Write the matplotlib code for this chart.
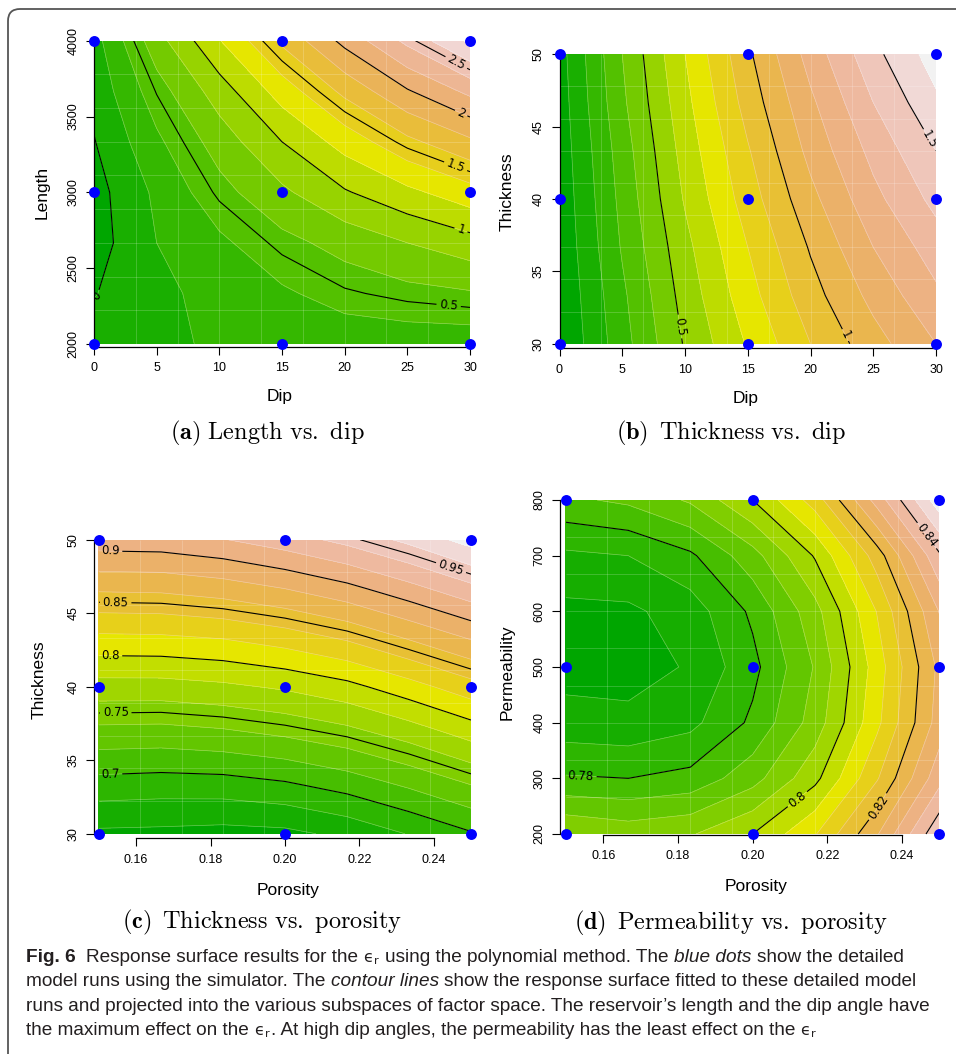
import colorsys
import numpy as np
import matplotlib
matplotlib.use("Agg")
import matplotlib.pyplot as plt
from matplotlib.patches import FancyBboxPatch
from matplotlib.transforms import IdentityTransform
from matplotlib import font_manager

# ---- data (response surface values on a coarse grid) ----
dip_a = [0, 5, 10, 15, 20, 25, 30]
length_a = [2000, 2333, 2667, 3000, 3333, 3667, 4000]
eps_a = [
    [0.09, 0.17, 0.22, 0.25, 0.28, 0.29, 0.29],
    [-0.01, 0.15, 0.27, 0.37, 0.48, 0.54, 0.58],
    [-0.09, 0.20, 0.36, 0.54, 0.67, 0.80, 0.92],
    [-0.08, 0.24, 0.53, 0.76, 0.98, 1.15, 1.32],
    [-0.01, 0.36, 0.69, 1.00, 1.28, 1.55, 1.76],
    [0.06, 0.51, 0.90, 1.29, 1.65, 1.98, 2.25],
    [0.12, 0.72, 1.19, 1.64, 2.06, 2.45, 2.84],
]

dip_b = [0, 5, 10, 15, 20, 25, 30]
thick_b = [30, 33.33, 36.67, 40, 43.33, 46.67, 50]
eps_b = [
    [0.00, 0.26, 0.51, 0.71, 0.90, 1.06, 1.20],
    [0.01, 0.28, 0.54, 0.76, 0.96, 1.13, 1.28],
    [0.02, 0.31, 0.57, 0.80, 1.01, 1.20, 1.35],
    [0.03, 0.33, 0.61, 0.85, 1.07, 1.27, 1.43],
    [0.04, 0.35, 0.64, 0.89, 1.13, 1.33, 1.50],
    [0.05, 0.38, 0.67, 0.94, 1.18, 1.40, 1.58],
    [0.06, 0.40, 0.70, 0.98, 1.24, 1.47, 1.65],
]

por_c = [0.15, 0.1667, 0.1833, 0.20, 0.2167, 0.2333, 0.25]
thick_c = [30, 33.33, 36.67, 40, 43.33, 46.67, 50]
eps_c = [
    [0.656, 0.655, 0.653, 0.655, 0.665, 0.681, 0.698],
    [0.692, 0.690, 0.691, 0.697, 0.708, 0.723, 0.740],
    [0.731, 0.730, 0.734, 0.741, 0.751, 0.766, 0.785],
    [0.772, 0.772, 0.776, 0.783, 0.794, 0.812, 0.832],
    [0.816, 0.817, 0.821, 0.830, 0.843, 0.862, 0.882],
    [0.863, 0.864, 0.870, 0.880, 0.894, 0.913, 0.934],
    [0.911, 0.912, 0.919, 0.931, 0.946, 0.965, 0.988],
]

por_d = [0.15, 0.1667, 0.1833, 0.20, 0.2167, 0.2333, 0.25]
perm_d = [200, 300, 400, 500, 600, 700, 800]
eps_d = [
    [0.7950, 0.7930, 0.7945, 0.8000, 0.8096, 0.8245, 0.8442],
    [0.7805, 0.7800, 0.7816, 0.7880, 0.7986, 0.8145, 0.8332],
    [0.7720, 0.7714, 0.7736, 0.7810, 0.7922, 0.8088, 0.8272],
    [0.7680, 0.7678, 0.7705, 0.7785, 0.7904, 0.8074, 0.8262],
    [0.7687, 0.7690, 0.7724, 0.7810, 0.7932, 0.8102, 0.8302],
    [0.7740, 0.7750, 0.7791, 0.7880, 0.8005, 0.8174, 0.8392],
    [0.7840, 0.7860, 0.7907, 0.8000, 0.8123, 0.8320, 0.8531],
]

# detailed model runs (blue dots)
design_dip = [0, 15, 30]
design_length = [2000, 3000, 4000]
design_thick = [30, 40, 50]
design_por = [0.15, 0.20, 0.25]
design_perm = [200, 500, 800]

W, H = 956, 1054
fig = plt.figure(figsize=(W / 100, H / 100), dpi=100)
SANS = "Liberation Sans"


def terrain(n):
    # same palette as R's terrain.colors(n)
    k = n // 2
    cols = []
    for i in range(k):
        t = i / (k - 1)
        cols.append(colorsys.hsv_to_rgb(4 / 12 - 2 / 12 * t, 1.0, 0.65 + 0.25 * t))
    m = n - k + 1
    for j in range(1, m):
        t = j / (m - 1)
        cols.append(colorsys.hsv_to_rgb(2 / 12 * (1 - t), 1.0 - t, 0.9 + 0.05 * t))
    return cols


def ftxt(x, y, s, **kw):
    return fig.text(x / W, 1 - y / H, s, **kw)


def panel(rect, xs, ys, z, fill_lv, line_lv, xlim, ylim, xticks, yticks,
          xfmt, label_pos, dx, dy):
    l, t, r, b = rect
    ax = fig.add_axes([l / W, 1 - b / H, (r - l) / W, (b - t) / H])
    z = np.array(z)
    ax.contourf(xs, ys, z, levels=fill_lv, colors=terrain(len(fill_lv) - 1),
                antialiased=False)
    ax.contour(xs, ys, z, levels=fill_lv, colors="white", linewidths=0.5,
               alpha=0.35)
    # faint seams of the 10x10 image grid
    gx = np.linspace(xs[0], xs[-1], 10)
    gy = np.linspace(ys[0], ys[-1], 10)
    ax.vlines(gx[1:-1], ys[0], ys[-1], colors="white", lw=0.6, alpha=0.22)
    ax.hlines(gy[1:-1], xs[0], xs[-1], colors="white", lw=0.6, alpha=0.22)
    cs = ax.contour(xs, ys, z, levels=line_lv, colors="black", linewidths=0.8)
    ax.clabel(cs, fmt=lambda v: f"{v:g}", manual=label_pos, inline=True,
              fontsize=8.5, inline_spacing=3)
    px, py = np.meshgrid(dx, dy)
    ax.scatter(px.ravel(), py.ravel(), s=62, color="#0000FF", zorder=10,
               clip_on=False, linewidths=0)
    ax.set_xlim(*xlim)
    ax.set_ylim(*ylim)
    for sp in ("top", "right"):
        ax.spines[sp].set_visible(False)
    ax.spines["left"].set_bounds(yticks[0], yticks[-1])
    ax.spines["bottom"].set_bounds(xticks[0], xticks[-1])
    for sp in ("left", "bottom"):
        ax.spines[sp].set_linewidth(0.9)
    ax.set_xticks(xticks)
    ax.set_yticks(yticks)
    ax.set_xticklabels([xfmt.format(v) for v in xticks], fontsize=9,
                       family=SANS)
    ax.set_yticklabels([str(v) for v in yticks], fontsize=9, family=SANS,
                       rotation=90, va="center")
    ax.tick_params(axis="x", length=6, width=0.8, pad=5)
    ax.tick_params(axis="y", length=6, width=0.8, pad=4.5)
    ax.set_facecolor("none")
    return ax


panel((94, 40.7, 470, 347), dip_a, length_a, eps_a,
      np.arange(-0.2, 3.01, 0.2), [0, 0.5, 1, 1.5, 2, 2.5],
      (0, 30), (1980, 4000), [0, 5, 10, 15, 20, 25, 30],
      [2000, 2500, 3000, 3500, 4000], "{:d}",
      [(0.3, 2310), (28.3, 2257), (29.2, 2730), (28.8, 3160), (29.2, 3505),
       (28.8, 3840)],
      design_dip, design_length)

panel((559.5, 54.3, 936, 348.3), dip_b, thick_b, eps_b,
      np.arange(0, 1.701, 0.1), [0.5, 1, 1.5],
      (0, 30), (29.68, 50), [0, 5, 10, 15, 20, 25, 30],
      [30, 35, 40, 45, 50], "{:d}",
      [(9.7, 31.2), (22.8, 30.6), (29.3, 44.0)],
      design_dip, design_thick)

panel((94, 539.7, 471, 838.3), por_c, thick_c, eps_c,
      np.arange(0.64, 1.0001, 0.02), [0.7, 0.75, 0.8, 0.85, 0.9, 0.95],
      (0.14866, 0.25), (29.69, 50), [0.16, 0.18, 0.20, 0.22, 0.24],
      [30, 35, 40, 45, 50], "{:.2f}",
      [(0.153, 34.0), (0.1545, 38.2), (0.153, 42.1), (0.1545, 45.8),
       (0.153, 49.2), (0.2445, 48.0)],
      design_por, design_thick)

panel((560, 500, 939.3, 835), por_d, perm_d, eps_d,
      np.arange(0.765, 0.85501, 0.005), [0.78, 0.80, 0.82, 0.84],
      (0.1484, 0.25), (198.2, 800), [0.16, 0.18, 0.20, 0.22, 0.24],
      [200, 300, 400, 500, 600, 700, 800], "{:.2f}",
      [(0.154, 305), (0.2125, 258), (0.2345, 245), (0.2465, 735)],
      design_por, design_perm)

# axis titles
lab = dict(fontsize=12.5, family=SANS, ha="center", va="center")
ftxt(42, 192, "Length", rotation=90, **lab)
ftxt(280, 397, "Dip", **lab)
ftxt(507, 192, "Thickness", rotation=90, **lab)
ftxt(746, 398, "Dip", **lab)
ftxt(39, 680, "Thickness", rotation=90, **lab)
ftxt(288, 890, "Porosity", **lab)
ftxt(507, 672, "Permeability", rotation=90, **lab)
ftxt(756, 887, "Porosity", **lab)

# sub captions
sub = dict(fontsize=17.5, ha="center", va="center", math_fontfamily="cm")
ftxt(267, 433, r"$\mathbf{(a)}\ \mathrm{Length\ vs.\ dip}$", **sub)
ftxt(731, 433, r"$\mathbf{(b)}\ \,\mathrm{Thickness\ vs.\ dip}$", **sub)
ftxt(262, 922, r"$\mathbf{(c)}\ \,\mathrm{Thickness\ vs.\ porosity}$", **sub)
ftxt(731, 923, r"$\mathbf{(d)}\ \,\mathrm{Permeability\ vs.\ porosity}$", **sub)

# figure caption
try:
    font_manager.findfont(font_manager.FontProperties(family="Liberation Sans Narrow"),
                          fallback_to_default=False)
    CAP = "Liberation Sans Narrow"
except Exception:
    CAP = "Liberation Sans"

renderer = fig.canvas.get_renderer()
EPS = "$\\mathrm{\u03f5}_\\mathrm{r}$"
cap_lines = [
    [("Fig. 6", "b"), ("  Response surface results for the ", "n"), (EPS, "m"),
     (" using the polynomial method. The ", "n"), ("blue dots", "i"),
     (" show the detailed", "n")],
    [("model runs using the simulator. The ", "n"), ("contour lines", "i"),
     (" show the response surface fitted to these detailed model", "n")],
    [("runs and projected into the various subspaces of factor space. "
      "The reservoir\u2019s length and the dip angle have", "n")],
    [("the maximum effect on the ", "n"), (EPS, "m"),
     (". At high dip angles, the permeability has the least effect on the ", "n"),
     (EPS, "m")],
]
cap_y = [962, 986, 1011, 1035]


def width_of(s, **kw):
    t = fig.text(0, 0, s, **kw)
    w = t.get_window_extent(renderer).width
    t.remove()
    return w


# fit the caption font so the third line spans its width in the reference
probe = width_of(cap_lines[2][0][0].strip(), fontsize=10, family=CAP)
cap_fs = 10 * (940 - 26) / probe
space_w = (width_of("a a", fontsize=cap_fs, family=CAP)
           - width_of("aa", fontsize=cap_fs, family=CAP))

for parts, y in zip(cap_lines, cap_y):
    x = 26
    for s, st in parts:
        lead = len(s) - len(s.lstrip(" "))
        trail = len(s) - len(s.rstrip(" "))
        x += lead * space_w
        kw = dict(fontsize=cap_fs, family=CAP, ha="left", va="baseline",
                  color="#231f20")
        if st == "b":
            kw["weight"] = "bold"
        elif st == "i":
            kw["style"] = "italic"
        elif st == "m":
            kw["math_fontfamily"] = "dejavusans"
            kw["fontsize"] = cap_fs * 0.85
        t = ftxt(x, y, s.strip(" "), **kw)
        x += t.get_window_extent(renderer).width + trail * space_w

# rounded frame around the figure
frame = FancyBboxPatch((8, -30), 1000, H - 9 + 30,
                       boxstyle="round,pad=0,rounding_size=12",
                       transform=IdentityTransform(), fill=False,
                       edgecolor="#555555", linewidth=1.3)
fig.add_artist(frame)

fig.savefig("out.png", dpi=100)
